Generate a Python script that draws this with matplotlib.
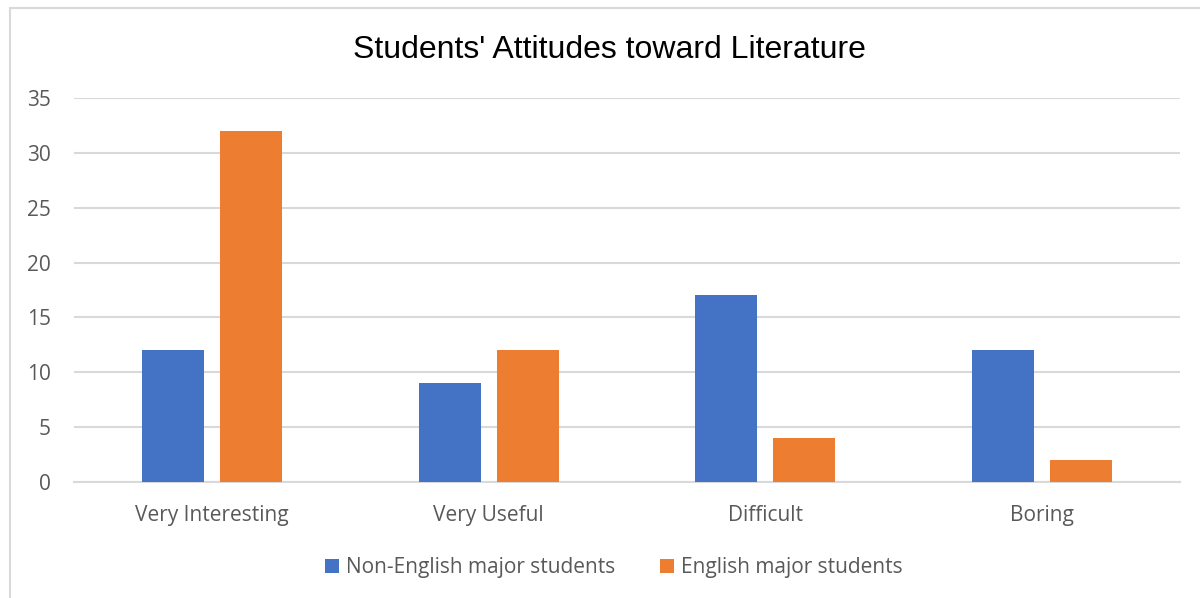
import matplotlib
matplotlib.use("Agg")
import matplotlib.pyplot as plt
from matplotlib.patches import Rectangle
import numpy as np

categories = ["Very Interesting", "Very Useful", "Difficult", "Boring"]
non_english = [12, 9, 17, 12]
english = [32, 12, 4, 2]
series_names = ["Non-English major students", "English major students"]
yticks = [0, 5, 10, 15, 20, 25, 30, 35]

BLUE = "#4472C4"
ORANGE = "#ED7D31"
GRID = "#D9D9D9"
TXT = "#595959"

W, H = 1200, 598
fig = plt.figure(figsize=(W / 100, H / 100), dpi=100)

# chart border (light gray), extends past right/bottom edges
fig.patches.append(Rectangle((10 / W, -0.05), 1.2, (H - 8) / H + 0.05,
                             transform=fig.transFigure, fill=False,
                             edgecolor=GRID, linewidth=1.5))

left, right = 74 / W, 1180 / W
bottom, top = (H - 481.5) / H, (H - 98.5) / H
ax = fig.add_axes([left, bottom, right - left, top - bottom])

x = np.arange(len(categories))
bw = 0.224
off = 0.141
ax.bar(x - off, non_english, bw, color=BLUE, zorder=3, label=series_names[0])
ax.bar(x + off, english, bw, color=ORANGE, zorder=3, label=series_names[1])

ax.set_xlim(-0.5, len(categories) - 0.5)
ax.set_ylim(0, 35)
ax.set_yticks(yticks)
ax.yaxis.grid(True, color=GRID, linewidth=1.5, zorder=0)
for s in ["top", "right", "left"]:
    ax.spines[s].set_visible(False)
ax.spines["bottom"].set_color(GRID)
ax.spines["bottom"].set_linewidth(1.5)
ax.tick_params(axis="both", length=0, colors=TXT, labelsize=15)
ax.tick_params(axis="y", pad=16.5)
ax.tick_params(axis="x", pad=17)
ax.set_xticks(x)
ax.set_xticklabels(categories)
for lbl in ax.get_xticklabels() + ax.get_yticklabels():
    lbl.set_fontfamily("Open Sans")

fig.text(609.5 / W, (H - 50) / H, "Students' Attitudes toward Literature",
         ha="center", va="center", fontsize=23, family="Liberation Sans",
         color="black")

leg = fig.legend(loc="center", bbox_to_anchor=(614 / W, (H - 568) / H),
                 ncol=2, frameon=False, handlelength=0.67, handleheight=0.67,
                 handletextpad=0.33, columnspacing=2.15,
                 prop={"family": "Open Sans", "size": 15})
for t in leg.get_texts():
    t.set_color(TXT)

fig.savefig("out.png", dpi=100)
